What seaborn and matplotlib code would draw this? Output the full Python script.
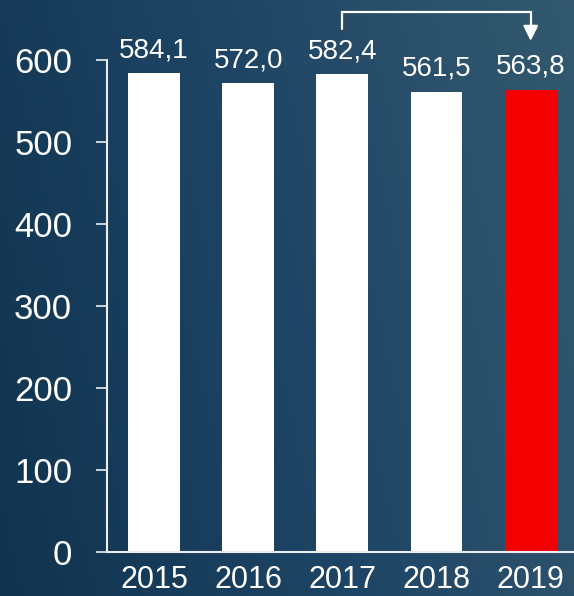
import numpy as np
import pandas as pd
import matplotlib
matplotlib.use("Agg")
import matplotlib.pyplot as plt
from matplotlib.colors import LinearSegmentedColormap
import seaborn as sns

years = ["2015", "2016", "2017", "2018", "2019"]
values = [584.1, 572.0, 582.4, 561.5, 563.8]
labels = ["584,1", "572,0", "582,4", "561,5", "563,8"]
bar_colors = ["#ffffff", "#ffffff", "#ffffff", "#ffffff", "#f40000"]
y_ticks = [0, 100, 200, 300, 400, 500, 600]

df = pd.DataFrame({"year": years, "value": values})

sns.set_style("white")
plt.rcParams["font.family"] = ["Liberation Sans", "DejaVu Sans"]

fig = plt.figure(figsize=(5.74, 5.96), dpi=100)

# gradient background
bg = fig.add_axes([0, 0, 1, 1], zorder=0)
gx, gy = np.meshgrid(np.linspace(0, 1, 300), np.linspace(0, 1, 300))
grad = 0.8 * gx + 0.2 * (1 - gy)
cmap = LinearSegmentedColormap.from_list("bg", ["#10344f", "#1f4566", "#33596f"])
bg.imshow(grad, cmap=cmap, aspect="auto", extent=[0, 1, 0, 1], origin="upper")
bg.axis("off")

ax = fig.add_axes([0.1864, 0.0738, 0.8136, 0.8255], zorder=1)
ax.patch.set_alpha(0)

sns.barplot(data=df, x="year", y="value", hue="year", palette=bar_colors,
            legend=False, width=0.55, saturation=1, ax=ax, linewidth=0)

ax.set_ylim(0, 600)
ax.set_xlim(-0.5, 4.46)
ax.set_yticks(y_ticks)
ax.set_xlabel("")
ax.set_ylabel("")

for s in ["top", "right"]:
    ax.spines[s].set_visible(False)
for s in ["left", "bottom"]:
    ax.spines[s].set_color("#e8eef2")
    ax.spines[s].set_linewidth(1.5)

ax.tick_params(axis="y", colors="#e8eef2", length=8, width=1.2, pad=17,
               labelsize=25, labelcolor="white", left=True)
ax.tick_params(axis="x", length=0, pad=9, labelsize=22, labelcolor="white")

for i, (v, t) in enumerate(zip(values, labels)):
    ax.annotate(t, (i, v), xytext=(0, 7), textcoords="offset points",
                ha="center", va="bottom", fontsize=20, color="white")

# bracket arrow from 2017 to 2019
ax.plot([2, 2, 4, 4], [638, 658, 658, 640], color="white", lw=1.6,
        clip_on=False, solid_joinstyle="miter")
ax.annotate("", xy=(4, 620), xytext=(4, 641),
            arrowprops=dict(arrowstyle="-|>,head_length=0.9,head_width=0.45",
                            color="white", lw=1.6),
            annotation_clip=False)

plt.savefig("out.png", dpi=100)
